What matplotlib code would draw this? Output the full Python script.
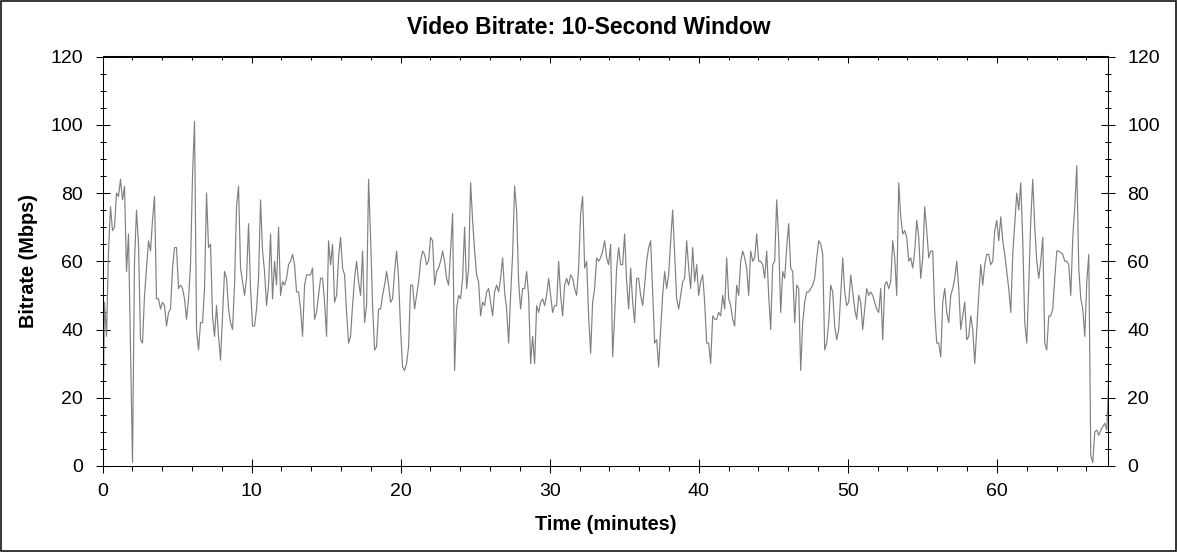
import numpy as np
import matplotlib.pyplot as plt
from matplotlib.patches import Rectangle
from matplotlib.ticker import MultipleLocator

# Bitrate samples (Mbps), one every ~8 s (0.1342 min)
sample_step_min = 0.1342

bitrate_00_08 = [0, 48, 38, 63, 76, 69, 70, 80, 79, 84, 78, 82, 57, 68, 34, 1, 60, 75, 65, 37,
                 36, 50, 58, 66, 63, 72, 79, 49, 49, 46, 48, 47, 41, 45, 46, 58, 64, 64, 52, 53,
                 52, 49, 43, 49, 59, 85, 101, 40, 34, 42, 42, 52, 80, 64, 65, 44, 38, 47, 38, 31,
                 44, 57, 55, 46]
bitrate_08_17 = [42, 40, 53, 76, 82, 58, 54, 50, 55, 71, 52, 41, 41, 46, 55, 78, 63, 57, 47, 53,
                 68, 49, 60, 53, 70, 50, 54, 53, 55, 59, 60, 62, 59, 51, 51, 46, 38, 53, 56, 56,
                 56, 58, 43, 45, 50, 55, 55, 48, 38, 66, 59, 65, 48, 50, 61, 67, 58, 56, 45, 36,
                 38, 47, 55, 60, 54]
bitrate_17_26 = [50, 63, 42, 47, 84, 67, 47, 34, 35, 46, 46, 50, 53, 57, 53, 48, 49, 57, 63, 55,
                 40, 29, 28, 30, 35, 53, 53, 46, 50, 54, 60, 63, 62, 59, 60, 67, 66, 53, 57, 58,
                 60, 63, 60, 55, 53, 63, 74, 28, 46, 50, 49, 55, 70, 52, 58, 83, 72, 63, 56, 54,
                 44, 48, 47, 51, 52]
bitrate_26_34 = [48, 44, 51, 53, 51, 55, 61, 51, 46, 36, 50, 62, 82, 75, 54, 46, 52, 52, 57, 50,
                 30, 38, 30, 47, 45, 48, 49, 47, 50, 55, 50, 45, 47, 47, 60, 50, 44, 53, 55, 53,
                 56, 55, 52, 50, 58, 74, 79, 58, 60, 44, 33, 48, 52, 61, 60, 61, 63, 66, 61, 59,
                 65, 32, 44, 58, 64]
bitrate_34_43 = [59, 59, 68, 54, 46, 58, 48, 42, 55, 55, 50, 47, 53, 60, 64, 66, 51, 36, 37, 29,
                 40, 50, 57, 52, 56, 66, 75, 62, 49, 46, 50, 54, 55, 66, 58, 52, 64, 54, 59, 50,
                 54, 56, 48, 36, 36, 30, 44, 43, 43, 45, 44, 50, 46, 61, 49, 47, 43, 41, 53, 50,
                 60, 63, 61, 58, 50]
bitrate_43_52 = [63, 60, 61, 68, 60, 60, 59, 55, 63, 50, 40, 59, 60, 78, 66, 45, 57, 55, 64, 71,
                 58, 57, 42, 53, 52, 28, 42, 48, 51, 51, 52, 53, 55, 61, 66, 65, 62, 34, 36, 42,
                 53, 51, 41, 37, 40, 50, 61, 51, 47, 48, 56, 51, 46, 43, 50, 48, 40, 46, 52, 50,
                 51, 50, 48, 46, 45]
bitrate_52_61 = [52, 37, 53, 54, 52, 54, 66, 61, 50, 83, 73, 68, 69, 67, 60, 61, 58, 63, 72, 67,
                 55, 61, 76, 69, 61, 63, 63, 45, 36, 36, 32, 48, 52, 45, 42, 50, 52, 55, 60, 52,
                 40, 44, 48, 37, 38, 44, 40, 30, 40, 50, 59, 53, 59, 62, 62, 59, 60, 69, 72, 66,
                 73, 66, 62, 57, 52]
bitrate_61_end = [45, 62, 71, 80, 75, 83, 66, 42, 36, 53, 72, 84, 70, 60, 55, 60, 67, 36, 34, 44,
                  44, 46, 55, 63, 63, 62.5, 62, 60, 60, 59, 50, 67, 76, 88, 58, 49, 46, 38, 54, 62,
                  3, 1, 10, 10.5, 9, 10.5, 11.5, 12.5, 10.5, 26]

bitrate = np.array(bitrate_00_08 + bitrate_08_17 + bitrate_17_26 + bitrate_26_34
                   + bitrate_34_43 + bitrate_43_52 + bitrate_52_61 + bitrate_61_end)
minutes = np.arange(len(bitrate)) * sample_step_min

plt.rcParams['font.family'] = ['Liberation Sans', 'DejaVu Sans']

W, H = 1178, 552
fig = plt.figure(figsize=(W / 100, H / 100), dpi=100)
ax = fig.add_axes([102.5 / W, 1 - 466 / H, (1108 - 102.5) / W, (466 - 56.5) / H])

ax.plot(minutes, bitrate, color='#808080', lw=0.85)

ax.set_xlim(0, 67.45)
ax.set_ylim(0, 120)
ax.xaxis.set_major_locator(MultipleLocator(10))
ax.xaxis.set_minor_locator(MultipleLocator(2))
ax.yaxis.set_major_locator(MultipleLocator(20))
ax.yaxis.set_minor_locator(MultipleLocator(5))

for s in ax.spines.values():
    s.set_linewidth(0.75)

ax.tick_params(axis='y', which='both', left=True, right=True, labelleft=True, labelright=True,
               direction='inout', width=0.75, labelsize=14, pad=9)
ax.tick_params(axis='y', which='major', length=10)
ax.tick_params(axis='y', which='minor', length=4.8)
ax.tick_params(axis='x', which='major', direction='inout', length=10, width=0.75,
               labelsize=14, pad=7, top=False)
ax.tick_params(axis='x', which='minor', direction='out', length=3.4, width=0.75, top=False)

# top axis: ticks pointing inward, no labels
top = ax.secondary_xaxis('top')
top.xaxis.set_major_locator(MultipleLocator(10))
top.xaxis.set_minor_locator(MultipleLocator(2))
top.tick_params(which='both', direction='in', width=0.75, labeltop=False)
top.tick_params(which='major', length=4.8)
top.tick_params(which='minor', length=3.1)
top.spines['top'].set_linewidth(0.75)

fig.text(589 / W, 1 - 34.3 / H, 'Video Bitrate: 10-Second Window', ha='center', va='baseline',
         fontsize=16.5, fontweight='bold')
fig.text(605.3 / W, 1 - 529.5 / H, 'Time (minutes)', ha='center', va='baseline',
         fontsize=14.3, fontweight='bold')
fig.text(28 / W, 1 - 261 / H, 'Bitrate (Mbps)', ha='center', va='center', rotation=90,
         fontsize=14.3, fontweight='bold')

# frame around the whole picture
fig.patches.append(Rectangle((0.5 / W, 1 / H), 1175.5 / W, 550.5 / H, transform=fig.transFigure,
                             fill=False, edgecolor='black', lw=1.1))

fig.savefig('out.png', dpi=100)
